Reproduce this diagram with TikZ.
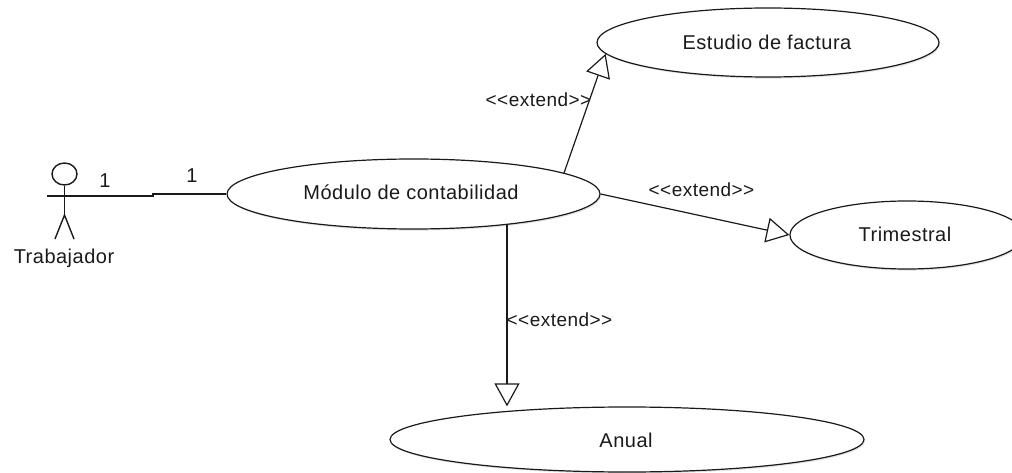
\documentclass[tikz,border=0pt]{standalone}
\usepackage{fontspec}
\setmainfont[LetterSpace=2.5]{Liberation Sans}
\usetikzlibrary{arrows.meta,shapes.geometric,shadows}
\definecolor{ink}{HTML}{1A1A1A}
\newcommand{\ext}{{<}{<}extend{>}{>}}
\tikzset{
  x=1pt,y=1pt,
  usecase/.style={ellipse,draw=ink,fill=white,line width=1.2pt,inner sep=0pt,
    drop shadow={opacity=.22,shadow xshift=1pt,shadow yshift=-1.6pt}},
  label text/.style={font=\fontsize{20}{22}\selectfont,text=ink,inner sep=0pt,anchor=center},
  small text/.style={font=\fontsize{19}{22}\selectfont,text=ink,inner sep=0pt,anchor=center},
  link/.style={draw=ink,line width=1.2pt},
  extends/.style={link,-{Triangle[open,length=23pt,width=25pt,line width=1.2pt]}},
  stick/.style={draw=ink,line width=1.4pt}
}
\begin{document}
\begin{tikzpicture}
\useasboundingbox (0,0) rectangle (1012,472);
\clip (0,0) rectangle (1012,472);
% use cases
\node[usecase,minimum width=373pt,minimum height=70pt] (mod) at (413.5,278) {};
\node[usecase,minimum width=342pt,minimum height=69pt] (est) at (768,429.5) {};
\node[usecase,minimum width=234pt,minimum height=68pt] (tri) at (907,237) {};
\node[usecase,minimum width=474pt,minimum height=65pt] (anu) at (627,32.5) {};
% texts
\node[label text] (tmod) at (411,280) {Módulo de contabilidad};
\node[label text] (test) at (767,430) {Estudio de factura};
\node[label text] (ttri) at (905,238) {Trimestral};
\node[label text] (tanu) at (626,32) {Anual};
\node[small text] (e1) at (538.5,372) {\ext};
\node[small text] (e2) at (701.5,282) {\ext};
\node[small text] (e3) at (559.5,152) {\ext};
\node[label text] (tact) at (64,214) {Trabajador};
\node[label text] (n1) at (105,291) {1};
\node[label text] (n2) at (192,296) {1};
% actor
\node[ellipse,stick,minimum width=25pt,minimum height=22pt,inner sep=0pt] (head) at (64.5,298) {};
\coordinate (hip) at (64.5,257);
\coordinate (arml) at (47,276);
\coordinate (armm) at (64.5,276);
\coordinate (legl) at (55,233);
\coordinate (legr) at (74,233);
\coordinate (jog1) at (153,276);
\coordinate (jog2) at (153,278);
\coordinate (mstud) at (564,299);
\coordinate (manu) at (507,247);
\draw[stick] (head.south) -- (hip);
\draw[stick] (legl) -- (hip) -- (legr);
\draw[stick] (arml) -- (armm);
% connectors
\draw[link] (armm) -- (jog1) -- (jog2) -- (mod.west);
\draw[extends] (mstud) -- (est.184.4);
\draw[extends] (mod.east) -- (tri.west);
\draw[extends] (manu) -- (manu |- anu.north);
\end{tikzpicture}
\end{document}
